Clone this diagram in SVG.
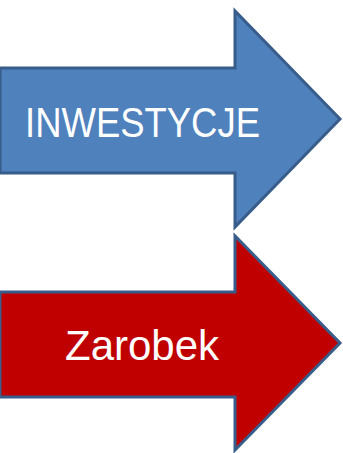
<svg xmlns="http://www.w3.org/2000/svg" width="343" height="453" viewBox="0 0 343 453">
<style>
.arrow{stroke:#385d8a;stroke-width:3;stroke-linejoin:miter}
.lbl{font-family:"Liberation Sans",Arial,sans-serif;font-size:42px;fill:#ffffff}
</style>
<rect width="343" height="453" fill="#ffffff"/>
<g id="inwestycje">
<path class="arrow" fill="#4f81bd" d="M0,68 H235 V11 L340,119 L235,227 V173 H0 Z"/>
<text class="lbl" x="25" y="137" textLength="235" lengthAdjust="spacingAndGlyphs">INWESTYCJE</text>
</g>
<g id="zarobek">
<path class="arrow" fill="#c00000" d="M0,292 H235 V236 L340,343 L235,450 V397 H0 Z"/>
<text class="lbl" x="65" y="360">Zarobek</text>
</g>
<g id="connectors"/>
</svg>
